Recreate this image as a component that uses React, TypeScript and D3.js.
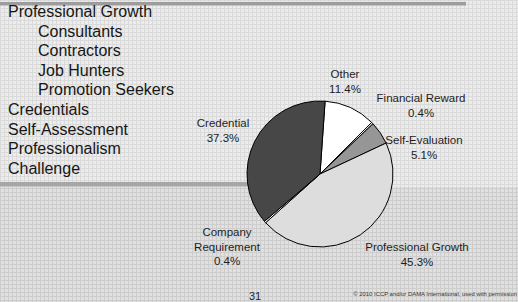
import * as d3 from "d3";

// slide text on the left
const bulletItems = [
  "Professional Growth",
  "Consultants",
  "Contractors",
  "Job Hunters",
  "Promotion Seekers",
  "Credentials",
  "Self-Assessment",
  "Professionalism",
  "Challenge",
];
const bulletLevels = [0, 1, 1, 1, 1, 0, 0, 0, 0];

// pie slices, clockwise from the top
const sliceNames = [
  "Other",
  "Financial Reward",
  "Self-Evaluation",
  "Professional Growth",
  "Company Requirement",
  "Credential",
];
const sliceValues = [11.4, 0.4, 5.1, 45.3, 0.4, 37.3];
const sliceColors = ["#ffffff", "#ffffff", "#969696", "#dddddd", "#ffffff", "#474747"];

// label anchors, offset from pie centre
const labelOffsets: [number, number][] = [
  [25, -96],
  [101, -72],
  [104, -30],
  [97, 77],
  [-93, 62],
  [-97, -47],
];

const pageNumber = "31";
const footer = "\u00a9 2010 ICCP and/or DAMA International, used with permission";

const W = 518;
const H = 302;
const cx = 320;
const cy = 174;
const radius = 73;

const pie = d3
  .pie<number>()
  .sort(null)
  .value((d) => d)
  .startAngle((4 * Math.PI) / 180)
  .endAngle((4 * Math.PI) / 180 + 2 * Math.PI);

const arc = d3.arc<d3.PieArcDatum<number>>().innerRadius(0).outerRadius(radius);

const App = () => {
  const arcs = pie(sliceValues);
  const font = "'Liberation Sans', Arial, sans-serif";

  return (
    <svg width={W} height={H} style={{ display: "block" }}>
      <style>{`body{margin:0}`}</style>
      <defs>
        <pattern id="gridTop" width={4} height={4} patternUnits="userSpaceOnUse">
          <rect width={4} height={4} fill="#ececec" />
          <rect width={4} height={1} fill="#dadada" />
          <rect width={1} height={4} fill="#dadada" />
        </pattern>
        <pattern id="gridBottom" width={4} height={4} patternUnits="userSpaceOnUse">
          <rect width={4} height={4} fill="#e0e0e0" />
          <rect width={4} height={1} fill="#cdcdcd" />
          <rect width={1} height={4} fill="#cdcdcd" />
        </pattern>
      </defs>

      <rect x={0} y={0} width={W} height={187} fill="url(#gridTop)" />
      <rect x={0} y={187} width={W} height={H - 187} fill="url(#gridBottom)" />
      <rect x={0} y={2} width={466} height={3.5} fill="#9c9c9c" />
      <rect x={0} y={182} width={300} height={4.5} fill="#a6a6a6" />

      {bulletItems.map((t, i) => (
        <text
          key={t}
          x={bulletLevels[i] ? 38 : 8}
          y={17 + i * 19.6}
          fontFamily={font}
          fontSize={16}
          fill="#161616"
        >
          {t}
        </text>
      ))}

      <g transform={`translate(${cx},${cy})`}>
        {arcs.map((a, i) => (
          <path
            key={sliceNames[i]}
            d={arc(a) || ""}
            fill={sliceColors[i]}
            stroke="#000"
            strokeWidth={1}
            strokeLinejoin="round"
          />
        ))}
        {arcs.map((a, i) => {
          const name = sliceNames[i];
          const lines =
            name === "Company Requirement" ? [...name.split(" ")] : [name];
          lines.push(`${sliceValues[i].toFixed(1)}%`);
          const [dx, dy] = labelOffsets[i];
          return (
            <text
              key={name}
              x={dx}
              y={dy}
              textAnchor="middle"
              fontFamily={font}
              fontSize={11.5}
              fill="#1e1e1e"
            >
              {lines.map((l, j) => (
                <tspan key={j} x={dx} dy={j ? 14.5 : 0}>
                  {l}
                </tspan>
              ))}
            </text>
          );
        })}
      </g>

      <text x={255} y={300} textAnchor="middle" fontFamily={font} fontSize={11} fill="#1e1e1e">
        {pageNumber}
      </text>
      <text x={517} y={295.5} textAnchor="end" fontFamily={font} fontSize={5.9} fill="#333">
        {footer}
      </text>
    </svg>
  );
};

export default App;
